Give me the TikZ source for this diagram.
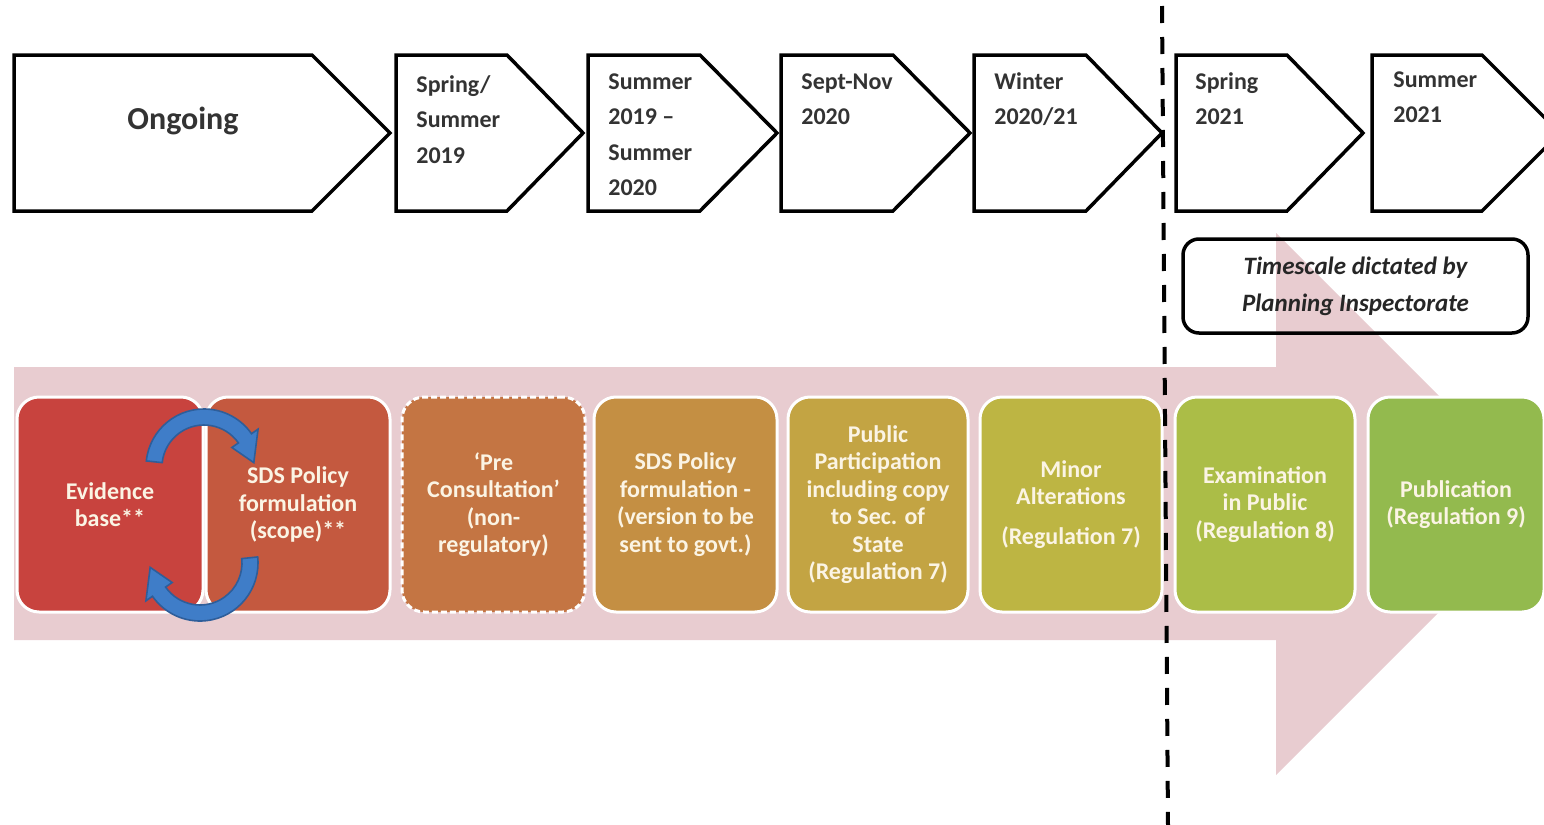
\documentclass[tikz,border=0pt]{standalone}
\usepackage{fontspec}
\setmainfont{Carlito}
\definecolor{pinkarrow}{HTML}{E8CCD0}
\definecolor{textgray}{HTML}{333333}
\definecolor{boxtext}{HTML}{FBF4E4}
\definecolor{cA}{HTML}{C8433E}
\definecolor{cB}{HTML}{C4593F}
\definecolor{cC}{HTML}{C47543}
\definecolor{cD}{HTML}{C48F43}
\definecolor{cE}{HTML}{C3A443}
\definecolor{cF}{HTML}{BDB543}
\definecolor{cG}{HTML}{ABBD47}
\definecolor{cH}{HTML}{93BA4E}
\definecolor{arrowblue}{HTML}{3F7DC8}
\definecolor{arrowedge}{HTML}{2E5E9A}
\begin{document}
\begin{tikzpicture}[x=0.5pt,y=-0.5pt,
  chev/.style={draw=black, line width=1.75pt, fill=white, line join=miter},
  chevtext/.style={anchor=north west, inner sep=0pt, align=left, text=textgray,
    font=\bfseries\fontsize{12}{17.75}\selectfont},
  stage/.style={rounded corners=11pt, draw=white, line width=1.5pt, text=boxtext,
    align=center, font=\bfseries\fontsize{12}{13.75}\selectfont,
    minimum height=107.5pt, inner sep=0pt},
  loopy/.style={fill=arrowblue, draw=arrowedge, line width=0.8pt},
  tsbox/.style={draw=black, line width=1.75pt, rounded corners=8pt, align=center,
    minimum width=172.5pt, minimum height=47pt, text=black!85,
    font=\bfseries\itshape\fontsize{12.5}{18.5}\selectfont},
  divider/.style={draw=black, line width=2pt, dash pattern=on 8.5pt off 7pt}]
\useasboundingbox (0,0) rectangle (1544,825);
\clip (0,0) rectangle (1544,825);
\fill[white] (0,0) rectangle (1544,825);

% big pink arrow
\fill[pinkarrow] (14,367) -- (1276,367) -- (1276,233) -- (1547,504)
  -- (1276,775) -- (1276,640) -- (14,640) -- cycle;

% stage boxes
\node[stage, fill=cA, minimum width=93pt] (b1) at (110,504.5) {Evidence\\base**};
\node[stage, fill=cB, minimum width=92pt] (b2) at (298,504.5) {SDS Policy\\formulation\\(scope)**};
\node[stage, fill=cC, minimum width=91.5pt, dash pattern=on 3pt off 1.5pt] (b3) at (493.5,504.5) {`Pre\\Consultation'\\(non-\\regulatory)};
\node[stage, fill=cD, minimum width=91.5pt] (b4) at (685.5,504.5) {SDS Policy\\formulation -\\(version to be\\sent to govt.)};
\node[stage, fill=cE, minimum width=90pt] (b5) at (878,504.5) {Public\\Participation\\including copy\\to Sec. of\\State\\(Regulation 7)};
\node[stage, fill=cF, minimum width=91pt] (b6) at (1071,504.5) {Minor\\Alterations\\[6pt](Regulation 7)};
\node[stage, fill=cG, minimum width=90pt] (b7) at (1265,504.5) {Examination\\in Public\\(Regulation 8)};
\node[stage, fill=cH, minimum width=88pt] (b8) at (1456,504.5) {Publication\\(Regulation 9)};

% circular arrows
\coordinate (c1) at (204,467);
\coordinate (c2) at (200,563);
\path[loopy] ([shift={(c1)}]186:58) arc[start angle=186, end angle=325, radius=58]
  -- ([shift={(c1)}]325:66) -- ([shift={(c1)}]355:50) -- ([shift={(c1)}]325:34)
  -- ([shift={(c1)}]325:42) arc[start angle=325, end angle=186, radius=42] -- cycle;
\path[loopy] ([shift={(c2)}]-6:58) arc[start angle=-6, end angle=145, radius=58]
  -- ([shift={(c2)}]145:66) -- ([shift={(c2)}]175:50) -- ([shift={(c2)}]145:34)
  -- ([shift={(c2)}]145:42) arc[start angle=145, end angle=-6, radius=42] -- cycle;

% timescale note
\node[tsbox] (ts) at (1355.5,286) {\raisebox{-3pt}{Timescale dictated by}\\\raisebox{-3pt}{Planning Inspectorate}};

% chevrons
\draw[chev] (14,55) -- (312,55) -- (390,133) -- (312,211) -- (14,211) -- cycle;
\draw[chev] (396,55) -- (507,55) -- (583,133) -- (507,211) -- (396,211) -- cycle;
\draw[chev] (588,55) -- (700,55) -- (777,133) -- (700,211) -- (588,211) -- cycle;
\draw[chev] (781,55) -- (893,55) -- (970,133) -- (893,211) -- (781,211) -- cycle;
\draw[chev] (974,55) -- (1086,55) -- (1162,133) -- (1086,211) -- (974,211) -- cycle;
\draw[chev] (1176,55) -- (1287,55) -- (1363,133) -- (1287,211) -- (1176,211) -- cycle;
\draw[chev] (1372,55) -- (1482,55) -- (1560,133) -- (1482,211) -- (1372,211) -- cycle;

\node[text=textgray, font=\bfseries\fontsize{16}{19}\selectfont] (t1) at (183,121) {Ongoing};
\node[chevtext] (t2) at (416,67) {\strut Spring/\\Summer\\2019};
\node[chevtext] (t3) at (608,64) {\strut Summer\\2019 --\\Summer\\2020};
\node[chevtext] (t4) at (801,64) {\strut Sept-Nov\\2020};
\node[chevtext] (t5) at (994,64) {\strut Winter\\2020/21};
\node[chevtext] (t6) at (1195,64) {\strut Spring\\2021};
\node[chevtext] (t7) at (1393,62) {\strut Summer\\2021};

% divider
\coordinate (dtop) at (1162,6);
\coordinate (dbot) at (1168,825);
\draw[divider] (dtop) -- (dbot);
\end{tikzpicture}
\end{document}
